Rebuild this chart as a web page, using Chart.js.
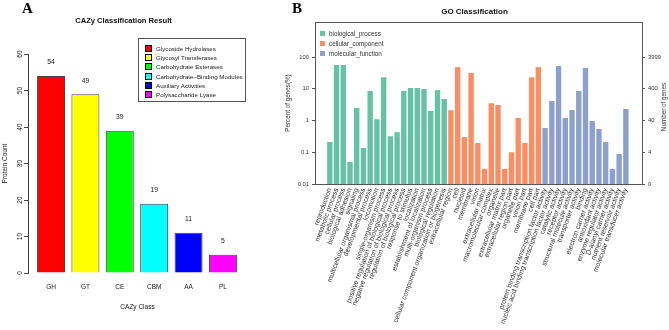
<!DOCTYPE html>
<html>
<head>
<meta charset="utf-8">
<script src="https://cdn.jsdelivr.net/npm/chart.js@4.4.0/dist/chart.umd.min.js"></script>
<style>
  body { margin: 0; background: #fff; }
  #wrap { position: relative; width: 669px; height: 330px; overflow: hidden; font-family: 'Liberation Sans', Arial, sans-serif; }
  canvas { position: absolute; top: 0; }
  .panel { position: absolute; font: bold 15px 'Liberation Serif', 'DejaVu Serif', serif; line-height: 1; }
  #legA { position: absolute; left: 138px; top: 38px; width: 108px; height: 64px; border: 1px solid #555; box-sizing: border-box; padding: 5px 0 0 6px; }
  #legA div, #legB div { display: flex; align-items: center; white-space: nowrap; }
  #legA div { height: 9.2px; font-size: 6.2px; color: #222; }
  #legA span { display: inline-block; width: 5px; height: 5px; border: 1px solid #000; margin-right: 4px; }
  #legB { position: absolute; left: 320px; top: 28px; }
  #legB div { height: 10px; font-size: 6.3px; color: #333; }
  #legB span { display: inline-block; width: 5px; height: 5px; margin-right: 4px; }
</style>
</head>
<body>
<div id="wrap">
  <canvas id="cazy" width="274" height="330" style="left:0"></canvas>
  <canvas id="go" width="389" height="330" style="left:280px"></canvas>
  <div class="panel" style="left:22px;top:1px">A</div>
  <div class="panel" style="left:292px;top:1px">B</div>
  <div id="legA"></div>
  <div id="legB"></div>
</div>
<script>
// ---- panel A data
const cazyClasses = ['GH', 'GT', 'CE', 'CBM', 'AA', 'PL'];
const cazyNames = ['Glycoside Hydrolases', 'Glycosyl Transferases', 'Carbohydrate Esterases',
  'Carbohydrate\u2013Binding Modules', 'Auxiliary Activities', 'Polysaccharide Lyase'];
const proteinCounts = [54, 49, 39, 19, 11, 5];
const cazyColors = ['#ff0000', '#ffff00', '#00ff00', '#00ffff', '#0000ff', '#ff00ff'];
const countTicks = [0, 10, 20, 30, 40, 50, 60];

// ---- panel B data (percent of genes)
const bpTerms = ['reproduction', 'metabolic process', 'cellular process', 'biological adhesion', 'signaling',
  'multicellular organismal process', 'developmental process', 'locomotion', 'single-organism process',
  'positive regulation of biological process', 'negative regulation of biological process',
  'regulation of biological process', 'response to stimulus', 'localization', 'establishment of localization',
  'multi-organism process', 'biological regulation', 'cellular component organization or biogenesis'];
const bpPercent = [0.21, 56, 56, 0.05, 2.5, 0.136, 8.5, 1.1, 23, 0.32, 0.43, 8.5, 10.6, 10.6, 9.8, 2.0, 9.1, 4.75];
const ccTerms = ['extracellular region', 'cell', 'nucleoid', 'membrane', 'virion', 'extracellular matrix',
  'macromolecular complex', 'organelle', 'extracellular matrix part', 'extracellular region part',
  'organelle part', 'virion part', 'membrane part', 'cell part'];
const ccPercent = [2.1, 48, 0.3, 31.6, 0.195, 0.03, 3.5, 3.1, 0.03, 0.1, 1.2, 0.195, 23, 48];
const mfTerms = ['protein binding transcription factor activity', 'nucleic acid binding transcription factor activity',
  'catalytic activity', 'receptor activity', 'structural molecule activity', 'transporter activity', 'binding',
  'electron carrier activity', 'antioxidant activity', 'enzyme regulator activity', 'D-alanyl carrier activity',
  'nutrient reservoir activity', 'molecular transducer activity'];
const mfPercent = [0.58, 4.1, 52, 1.2, 2.14, 8.5, 45, 0.96, 0.54, 0.21, 0.03, 0.088, 2.3];
const groupNames = ['biological_process', 'cellular_component', 'molecular_function'];
const groupColors = ['#66c2a5', '#fc8d62', '#8da0cb'];
const percentTicks = [0.01, 0.1, 1, 10, 100];
const percentLabels = ['0.01', '0.1', '1', '10', '100'];
const geneLabels = ['0', '4', '40', '400', '3999'];

const FONT = "'Liberation Sans', Arial, sans-serif";
const NARROW = "'Liberation Sans Narrow', 'Liberation Sans', Arial, sans-serif";

// legends
document.getElementById('legA').innerHTML = cazyNames.map((n, i) =>
  `<div><span style="background:${cazyColors[i]}"></span>${n}</div>`).join('');
document.getElementById('legB').innerHTML = groupNames.map((n, i) =>
  `<div><span style="background:${groupColors[i]}"></span>${n}</div>`).join('');

// numbers above CAZy bars
const valueLabels = {
  id: 'valueLabels',
  afterDatasetsDraw(chart) {
    const ctx = chart.ctx;
    ctx.save();
    ctx.font = '6.8px ' + FONT;
    ctx.fillStyle = '#222';
    ctx.textAlign = 'center';
    ctx.textBaseline = 'middle';
    chart.getDatasetMeta(0).data.forEach((bar, i) => {
      ctx.fillText(proteinCounts[i], bar.x, bar.y - 13.5);
    });
    ctx.restore();
  }
};

new Chart(document.getElementById('cazy'), {
  type: 'bar',
  data: {
    datasets: [{
      data: proteinCounts.map((v, i) => ({ x: i, y: v })),
      backgroundColor: cazyColors,
      borderColor: '#444',
      borderWidth: 1,
      categoryPercentage: 1,
      barPercentage: 0.814
    }]
  },
  options: {
    responsive: false,
    animation: false,
    devicePixelRatio: 1,
    layout: { padding: { right: 27 } },
    plugins: {
      legend: { display: false },
      tooltip: { enabled: false },
      title: {
        display: true, text: 'CAZy Classification Result', color: '#111',
        font: { family: FONT, size: 7.6, weight: 'bold' },
        padding: { top: 16, bottom: 29 }
      }
    },
    scales: {
      x: {
        type: 'linear', min: -0.67, max: 5.7, offset: false,
        afterBuildTicks: s => { s.ticks = cazyClasses.map((c, i) => ({ value: i })); },
        grid: { display: false, drawTicks: false, offset: false },
        border: { display: false },
        ticks: { callback: v => cazyClasses[v], autoSkip: false, maxRotation: 0, color: '#222',
          font: { family: FONT, size: 6.5 }, padding: 10 },
        title: { display: true, text: 'CAZy Class', color: '#222', font: { family: FONT, size: 6.5 },
          padding: { top: 19, bottom: 19 } },
        afterFit: s => { s.height = 57; }
      },
      y: {
        min: 0, max: 60,
        afterBuildTicks: s => { s.ticks = countTicks.map(v => ({ value: v })); },
        grid: { display: true, drawOnChartArea: false, tickLength: 4, color: '#444' },
        border: { display: true, color: '#444' },
        ticks: { minRotation: 90, maxRotation: 90, crossAlign: 'center', padding: 0, color: '#222',
          font: { family: FONT, size: 6.5 } },
        title: { display: true, text: 'Protein Count', color: '#222', font: { family: FONT, size: 6.5 },
          padding: 1 },
        afterFit: s => { s.width = 28; }
      }
    }
  },
  plugins: [valueLabels]
});

// ---- GO chart
const goTerms = bpTerms.concat(ccTerms, mfTerms);
const groupValues = [bpPercent, ccPercent, mfPercent];
let start = 0;
const goDatasets = groupValues.map((vals, g) => {
  const first = start;
  start += vals.length;
  return {
    label: groupNames[g],
    data: vals.map((v, i) => ({ x: first + i, y: v })),
    backgroundColor: groupColors[g],
    grouped: false,
    categoryPercentage: 1,
    barPercentage: 0.8
  };
});

const rightTitle = {
  id: 'rightTitle',
  afterDraw(chart) {
    const ctx = chart.ctx;
    const a = chart.chartArea;
    ctx.save();
    ctx.translate(chart.width - 5, (a.top + a.bottom) / 2 + 4);
    ctx.rotate(-Math.PI / 2);
    ctx.font = '6.3px ' + FONT;
    ctx.fillStyle = '#333';
    ctx.textAlign = 'center';
    ctx.textBaseline = 'middle';
    ctx.fillText('Number of genes', 0, 0);
    ctx.restore();
  }
};

const xMin = -2.2, xMax = 46.4;
new Chart(document.getElementById('go'), {
  type: 'bar',
  data: { datasets: goDatasets },
  options: {
    responsive: false,
    animation: false,
    devicePixelRatio: 1,
    plugins: {
      legend: { display: false },
      tooltip: { enabled: false },
      title: {
        display: true, text: 'GO Classification', color: '#111',
        font: { family: NARROW, size: 8, weight: 'bold' },
        padding: { top: 7, bottom: 5.4 }
      }
    },
    scales: {
      x: {
        type: 'linear', min: xMin, max: xMax, offset: false,
        afterBuildTicks: s => { s.ticks = goTerms.map((t, i) => ({ value: i })); },
        grid: { display: false, drawTicks: false, offset: false },
        border: { display: true, color: '#555' },
        ticks: { callback: v => goTerms[v], autoSkip: false, minRotation: 70, maxRotation: 70,
          color: '#333', font: { family: FONT, size: 7 }, padding: 3 },
        afterFit: s => { s.height = 146; }
      },
      xTop: {
        type: 'linear', position: 'top', min: xMin, max: xMax,
        ticks: { display: false },
        grid: { display: false, drawTicks: false },
        border: { display: true, color: '#555' },
        afterFit: s => { s.height = 0; }
      },
      y: {
        type: 'logarithmic', min: 0.01, max: 1270, bounds: 'data',
        afterBuildTicks: s => { s.ticks = percentTicks.map(v => ({ value: v })); },
        grid: { display: true, drawOnChartArea: false, tickLength: 3, color: '#555' },
        border: { display: true, color: '#555' },
        ticks: { callback: (v, i) => percentLabels[i], color: '#333', padding: 3,
          font: { family: NARROW, size: 5.8 } },
        title: { display: true, text: 'Percent of genes(%)', color: '#333',
          font: { family: FONT, size: 6.3 }, padding: 4 },
        afterFit: s => { s.width = 35; }
      },
      y2: {
        type: 'logarithmic', position: 'right', min: 0.01, max: 1270, bounds: 'data',
        afterBuildTicks: s => { s.ticks = percentTicks.map(v => ({ value: v })); },
        grid: { display: true, drawOnChartArea: false, tickLength: 3, color: '#555' },
        border: { display: true, color: '#555' },
        ticks: { callback: (v, i) => geneLabels[i], color: '#333', padding: 3,
          font: { family: NARROW, size: 5.8 } },
        afterFit: s => { s.width = 27; }
      }
    }
  },
  plugins: [rightTitle]
});
</script>
</body>
</html>
